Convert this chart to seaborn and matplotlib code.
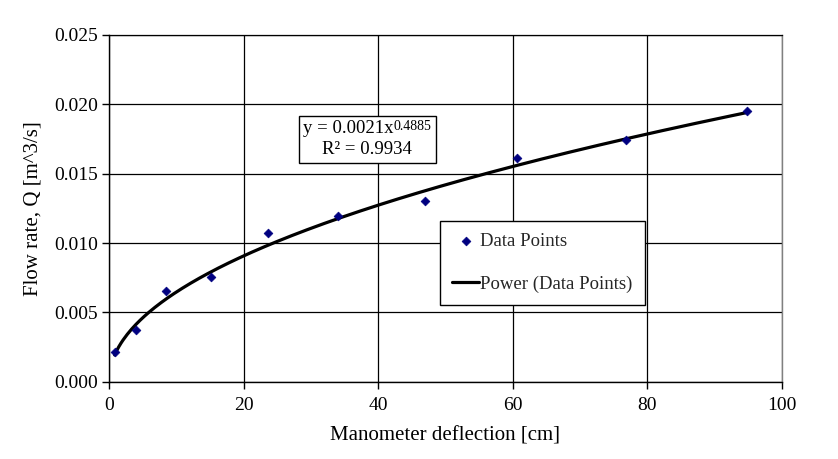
import numpy as np
import pandas as pd
import matplotlib
matplotlib.use("Agg")
import matplotlib.pyplot as plt
from matplotlib.offsetbox import TextArea, HPacker, VPacker, AnnotationBbox
import seaborn as sns

# Data
deflection_cm = [0.85, 3.95, 8.5, 15.2, 23.7, 34.0, 46.9, 60.7, 76.8, 94.8]
flow_m3s = [0.00214, 0.00376, 0.00656, 0.00754, 0.01071, 0.01194, 0.01302, 0.01614, 0.01745, 0.01952]

# Power trendline coefficients shown on the chart
fit_a = 0.0021
fit_b = 0.4885
eq_main = "y = 0.0021x"
eq_exp = "0.4885"
eq_r2 = "R² = 0.9934"

x_ticks = [0, 20, 40, 60, 80, 100]
y_ticks = [0.000, 0.005, 0.010, 0.015, 0.020, 0.025]

sns.set_theme(style="white")
plt.rcParams["font.family"] = ["Liberation Serif", "DejaVu Serif"]

fig = plt.figure(figsize=(8.38, 4.59), dpi=100)
ax = fig.add_axes([0.130, 0.168, 0.803, 0.756])

df = pd.DataFrame({"x": deflection_cm, "y": flow_m3s})
xf = np.linspace(min(deflection_cm), max(deflection_cm), 300)
fit_df = pd.DataFrame({"x": xf, "y": fit_a * xf ** fit_b})

sns.lineplot(data=fit_df, x="x", y="y", ax=ax, color="black", linewidth=2.3,
             label="Power (Data Points)", zorder=3)
sns.scatterplot(data=df, x="x", y="y", ax=ax, marker="D", s=20, color="#000080",
                edgecolor="#000080", linewidth=0.5, label="Data Points", zorder=4)

ax.set_xlim(0, 100)
ax.set_ylim(0, 0.025)
ax.set_xticks(x_ticks)
ax.set_yticks(y_ticks)
ax.set_xticklabels([str(t) for t in x_ticks])
ax.set_yticklabels([f"{t:.3f}" for t in y_ticks])
ax.grid(True, color="black", linewidth=0.9)
ax.set_axisbelow(True)

for side in ["left", "bottom"]:
    ax.spines[side].set_color("black")
    ax.spines[side].set_linewidth(1.0)
ax.spines["top"].set_color("black")
ax.spines["top"].set_linewidth(0.9)
ax.spines["right"].set_color("#808080")
ax.spines["right"].set_linewidth(1.0)

ax.tick_params(axis="both", which="major", direction="out", length=5, width=1,
               color="black", labelsize=14, labelcolor="black", bottom=True, left=True)
ax.tick_params(axis="y", pad=3)
ax.tick_params(axis="x", pad=6)

ax.set_xlabel("Manometer deflection [cm]", fontsize=15, color="black", labelpad=9)
ax.set_ylabel("Flow rate, Q [m^3/s]", fontsize=15, color="black", labelpad=8)

# Trendline equation box
tp_main = dict(fontsize=13.5, color="black")
tp_sup = dict(fontsize=10, color="black")
line1 = HPacker(children=[TextArea(eq_main, textprops=tp_main),
                          TextArea(eq_exp, textprops=tp_sup)],
                align="top", pad=0, sep=0)
line2 = TextArea(eq_r2, textprops=tp_main)
eq_box = VPacker(children=[line1, line2], align="center", pad=0, sep=3)
ab = AnnotationBbox(eq_box, (38.4, 0.01748), xycoords="data", frameon=True,
                    box_alignment=(0.5, 0.5), pad=0.3,
                    bboxprops=dict(boxstyle="square", edgecolor="black",
                                   facecolor="white", linewidth=1))
ab.set_zorder(5)
ax.add_artist(ab)

handles, labels = ax.get_legend_handles_labels()
order = [labels.index("Data Points"), labels.index("Power (Data Points)")]
leg = ax.legend([handles[i] for i in order], [labels[i] for i in order],
                loc="upper left", bbox_to_anchor=(0.492, 0.464), fontsize=13.5,
                frameon=True, fancybox=False, edgecolor="black", framealpha=1,
                labelspacing=1.35, handlelength=1.45, handletextpad=0.05,
                borderpad=0.65, borderaxespad=0, markerscale=1.0)
leg.get_frame().set_linewidth(1.0)
leg.set_zorder(6)

fig.savefig("out.png", dpi=100)
